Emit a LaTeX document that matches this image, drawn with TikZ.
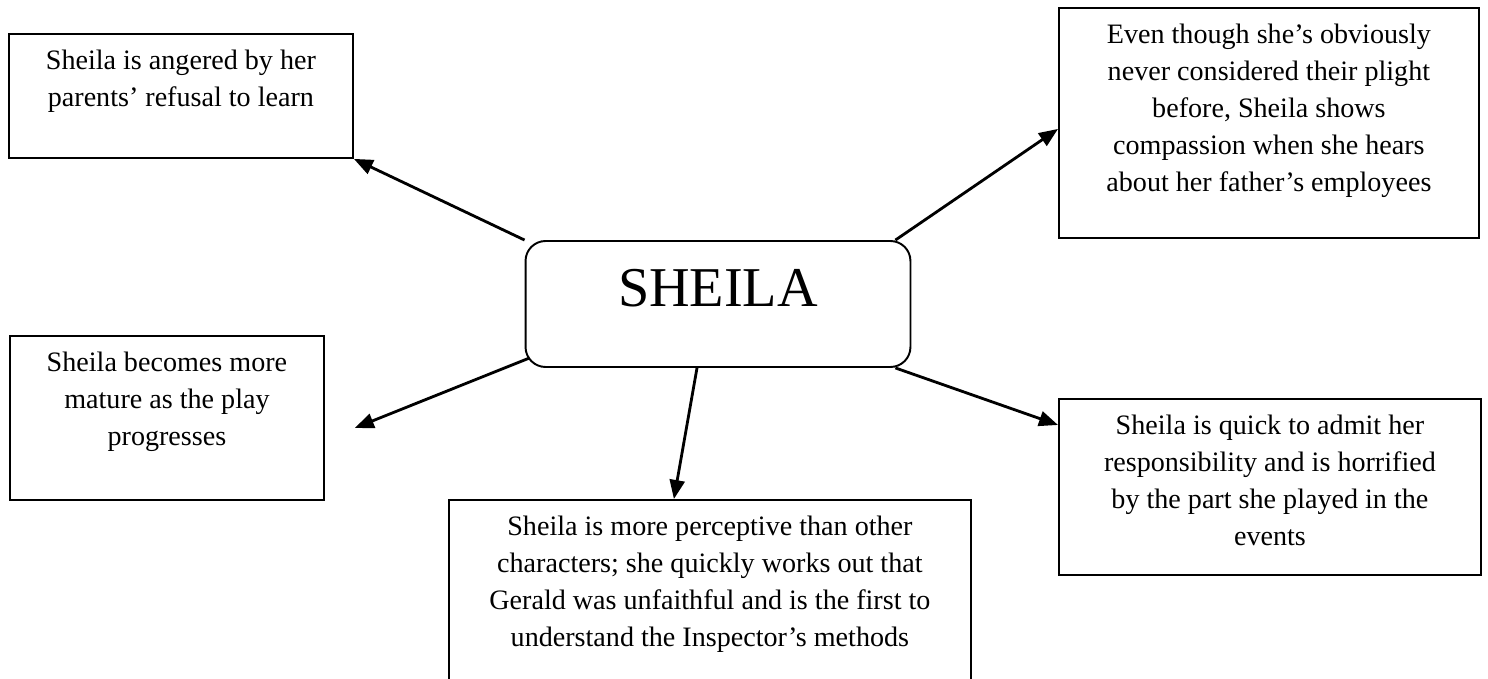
\documentclass[tikz,border=0pt]{standalone}
\usepackage{fontspec}
\setmainfont{Liberation Serif}
\usetikzlibrary{arrows.meta}

% 方框内文字：顶部对齐
\newcommand{\boxtext}[3]{\parbox[c][#2][t]{#1}{\centering\vspace*{0.32cm}#3}}

\begin{document}
\begin{tikzpicture}[x=0.02cm, y=-0.02cm, >={Triangle[length=0.38cm,width=0.3cm]},
    box/.style={draw, line width=1.1pt, inner sep=0pt, anchor=north west,
        font=\fontsize{16}{21}\selectfont},
    hub/.style={draw, line width=1.1pt, rounded corners=0.4cm, inner sep=0pt,
        minimum width=7.7cm, minimum height=2.52cm, font=\fontsize{32}{36}\selectfont,
        text height=21pt, text depth=17.6pt},
    link/.style={->, line width=1.6pt}]
    \useasboundingbox (0,0) rectangle (1488,679);

    % 中心
    \node[hub] (sheila) at (718,304) {SHEILA};

    % 周围的方框
    \node[box] (bxA) at (8,33) {\boxtext{6.88cm}{2.48cm}{Sheila is angered by her\\
        parents’ refusal to learn}};
    \node[box] (bxB) at (1058,7) {\boxtext{8.4cm}{4.6cm}{Even though she’s obviously\\
        never considered their plight\\ before, Sheila shows\\
        compassion when she hears\\ about her father’s employees}};
    \node[box] (bxC) at (9,335) {\boxtext{6.28cm}{3.28cm}{Sheila becomes more\\
        mature as the play\\ progresses}};
    \node[box] (bxD) at (448,499) {\boxtext{10.44cm}{4.0cm}{Sheila is more perceptive than other\\
        characters; she quickly works out that\\ Gerald was unfaithful and is the first to\\
        understand the Inspector’s methods}};
    \node[box] (bxE) at (1058,398) {\boxtext{8.44cm}{3.52cm}{Sheila is quick to admit her\\
        responsibility and is horrified\\ by the part she played in the\\ events}};

    % 箭头
    \draw[link] (sheila.north west) -- (bxA.south east);
    \draw[link] ([xshift=-0.32cm]sheila.north east) -- ([yshift=-0.12cm]bxB.west);
    \draw[link] ([shift={(0.1cm,0.2cm)}]sheila.south west) -- ([shift={(0.6cm,-0.2cm)}]bxC.east);
    \draw[link] ([xshift=-0.42cm]sheila.south) -- ([xshift=-0.72cm]bxD.north);
    \draw[link] ([xshift=-0.32cm]sheila.south east) -- ([yshift=1.24cm]bxE.west);
\end{tikzpicture}
\end{document}
